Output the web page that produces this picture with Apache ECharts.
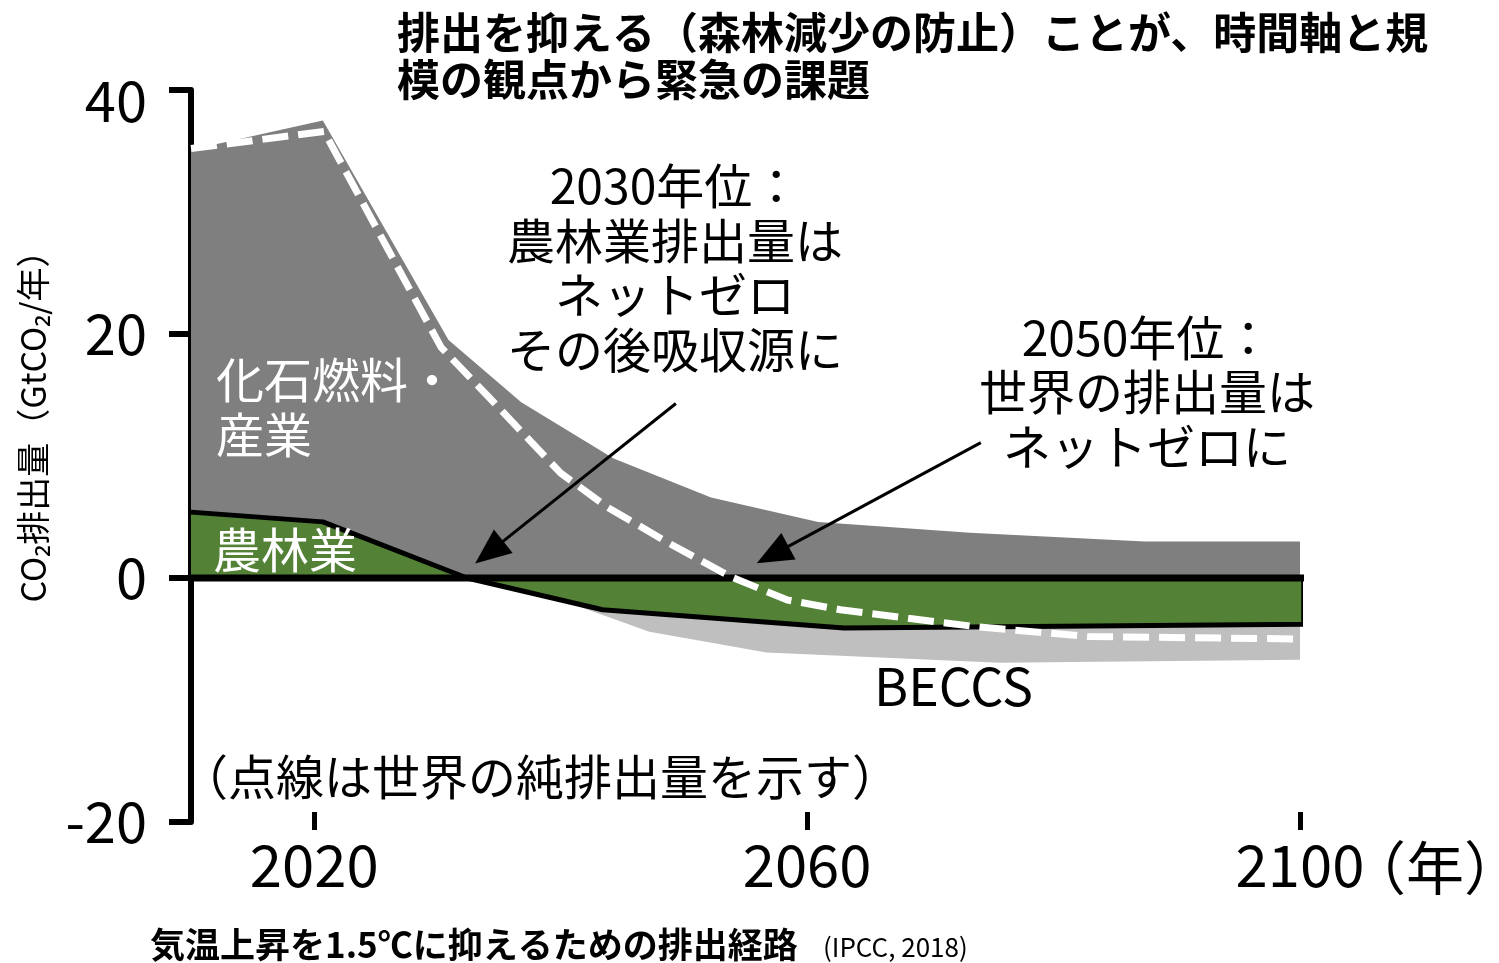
<!DOCTYPE html>
<html><head><meta charset="utf-8">
<script src="https://cdn.jsdelivr.net/npm/echarts@6/dist/echarts.min.js"></script>
<style>html,body{margin:0;padding:0;background:#fff}#c{width:1499px;height:963px}</style>
</head><body><div id="c"></div>
<script>
// ---- data (year, GtCO2/yr) ----
const fossilTop = [[2010,35.1],[2020.7,37.5],[2030.9,19.5],[2036.8,14.4],[2044.3,9.8],[2052.2,6.6],[2060.9,4.6],[2073.2,3.7],[2087.4,3.0],[2100.3,3.0]];
const agriculture = [[2010,5.4],[2020.7,4.6],[2032.4,0],[2043.4,-2.6],[2063.0,-4.1],[2075.7,-4.0],[2100.3,-3.8],[2100.3,0]];
const beccs = [[2040,-1.8],[2047.2,-4.4],[2056.7,-6.1],[2075.6,-6.95],[2100.3,-6.7]];
const netEmissions = [[2010,35.2],[2020.8,36.6],[2030.3,18.9],[2034.1,14.9],[2040.0,8.6],[2043.8,5.8],[2048.7,2.9],[2053.8,0.1],[2058.4,-1.8],[2062.7,-2.6],[2068.2,-3.3],[2073.8,-4.0],[2082.8,-4.8],[2100.1,-5.0]];
const zeroLine = [[2010,0],[2100.7,0]];
const arrow2030 = [[2049.35,14.3],[2034.2,2.1]];
const arrow2050 = [[2074.1,11.1],[2057.2,1.9]];
const xTicks = [2020,2060,2100];
const yTicks = [-20,0,20,40];

const FONT = '"Noto Sans CJK JP","Noto Sans",sans-serif';
const chart = echarts.init(document.getElementById('c'), null, {renderer:'canvas'});

function txt(x, y, text, size, opts) {
  opts = opts || {};
  return {
    type: 'text', x: x, y: y, silent: true, z: 100,
    rotation: opts.rotation || 0,
    style: {
      text: text,
      fill: opts.fill || '#000',
      font: (opts.weight || 'normal') + ' ' + size + 'px ' + FONT,
      textAlign: opts.align || 'left',
      textVerticalAlign: 'middle',
      lineHeight: opts.lh || size * 1.2
    }
  };
}

const option = {
  animation: false,
  backgroundColor: '#fff',
  grid: {left: 191, right: 199, top: 90, bottom: 141},
  xAxis: {
    type: 'value', min: 2010, max: 2100, offset: -10, position: 'bottom',
    axisLine: {show: false, onZero: false},
    splitLine: {show: false},
    axisTick: {show: true, customValues: xTicks, length: 18, lineStyle: {color: '#000', width: 5}},
    axisLabel: {customValues: xTicks, margin: 24, fontSize: 58, color: '#000', fontFamily: FONT,
      formatter: function (v) { return String(v); }}
  },
  yAxis: {
    type: 'value', min: yTicks[0], max: yTicks[yTicks.length-1], interval: 20,
    axisLine: {show: true, lineStyle: {color: '#000', width: 6}},
    axisTick: {show: true, length: 22, lineStyle: {color: '#000', width: 6}},
    splitLine: {show: false},
    axisLabel: {
      margin: 44, fontSize: 56, color: '#000', fontFamily: FONT,
      formatter: function (v) { return v === 40 ? '{t|' + v + '}' : String(v); },
      rich: {t: {fontSize: 56, color: '#000', fontFamily: FONT, padding: [22, 0, 0, 0]}}
    }
  },
  series: [
    {name: 'fossil', type: 'line', data: fossilTop, symbol: 'none', clip: false, silent: true,
     lineStyle: {width: 0, opacity: 0}, areaStyle: {color: '#7f7f7f', opacity: 1}},
    {name: 'beccs', type: 'line', data: beccs, symbol: 'none', clip: false, silent: true,
     lineStyle: {width: 0, opacity: 0}, areaStyle: {color: '#bfbfbf', opacity: 1}},
    {name: 'agri', type: 'line', data: agriculture, symbol: 'none', clip: false, silent: true,
     lineStyle: {color: '#000', width: 5}, areaStyle: {color: '#538135', opacity: 1}},
    {name: 'zero', type: 'line', data: zeroLine, symbol: 'none', clip: false, silent: true,
     lineStyle: {color: '#000', width: 7},
     markLine: {
       silent: true, animation: false, symbol: ['none', 'triangle'], symbolSize: [30, 36],
       label: {show: false}, emphasis: {disabled: true},
       lineStyle: {color: '#000', width: 3, type: 'solid'},
       data: [
         [{coord: arrow2030[0]}, {coord: arrow2030[1]}],
         [{coord: arrow2050[0]}, {coord: arrow2050[1]}]
       ]
     }},
    {name: 'net', type: 'line', data: netEmissions, symbol: 'none', clip: false, silent: true,
     lineStyle: {color: '#fff', width: 7, type: [26, 10], cap: 'butt'}}
  ],
  graphic: [
    txt(397, 33, '排出を抑える（森林減少の防止）ことが、時間軸と規', 43, {weight: 'bold'}),
    txt(397, 80, '模の観点から緊急の課題', 43, {weight: 'bold'}),
    txt(675, 268, '2030年位：\n農林業排出量は\nネットゼロ\nその後吸収源に', 48, {align: 'center', lh: 54.5}),
    txt(1147, 392, '2050年位：\n世界の排出量は\nネットゼロに', 48, {align: 'center', lh: 54.5}),
    txt(216, 407, '化石燃料・\n産業', 48, {fill: '#fff', lh: 55}),
    txt(213, 550, '農林業', 48, {fill: '#fff'}),
    txt(874, 686, 'BECCS', 52),
    txt(180, 777, '（点線は世界の純排出量を示す）', 48),
    txt(1348, 868, '（年）', 58),
    txt(33, 418, 'CO₂排出量（GtCO₂/年）', 34, {align: 'center', rotation: Math.PI / 2}),
    txt(150, 945, '気温上昇を1.5℃に抑えるための排出経路', 35, {weight: 'bold'}),
    txt(823, 947, '(IPCC, 2018)', 26)
  ]
};
chart.setOption(option);
</script>
</body></html>
